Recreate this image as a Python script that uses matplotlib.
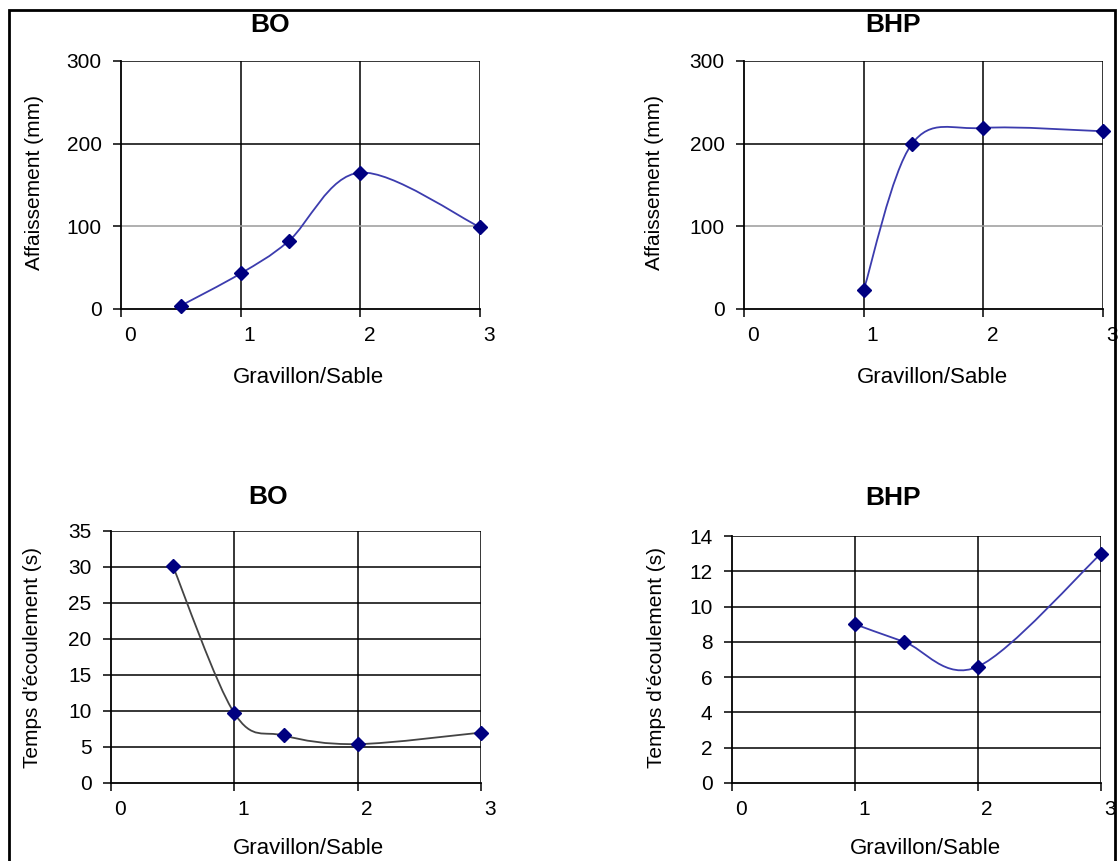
import numpy as np
import matplotlib
matplotlib.use('Agg')
import matplotlib.pyplot as plt
from matplotlib.path import Path
from matplotlib.patches import PathPatch, Rectangle
from matplotlib.transforms import ScaledTranslation

plt.rcParams['font.family'] = ['Liberation Sans', 'DejaVu Sans']

# Data
bo_x = [0.5, 1.0, 1.4, 2.0, 3.0]
bo_slump = [4, 43, 82, 165, 99]
bo_flow = [30.2, 9.7, 6.6, 5.4, 7.0]

bhp_x = [1.0, 1.4, 2.0, 3.0]
bhp_slump = [23, 199, 219, 215]
bhp_flow = [9.0, 8.0, 6.6, 13.0]

x_ticks = [0, 1, 2, 3]
slump_ticks = [0, 100, 200, 300]
bo_flow_ticks = [0, 5, 10, 15, 20, 25, 30, 35]
bhp_flow_ticks = [0, 2, 4, 6, 8, 10, 12, 14]

xlabel = 'Gravillon/Sable'
slump_label = 'Affaissement (mm)'
flow_label = "Temps d'écoulement (s)"

W, H = 1119, 861
fig = plt.figure(figsize=(W / 100, H / 100), dpi=100)


# Excel-like smoothed line drawn as cubic Bezier segments through the data points
def smooth_path(x, y):
    pts = np.column_stack([x, y]).astype(float)
    n = len(pts)
    verts = [pts[0]]
    codes = [Path.MOVETO]
    for i in range(n - 1):
        p0 = pts[i - 1] if i > 0 else pts[i]
        p1 = pts[i]
        p2 = pts[i + 1]
        p3 = pts[i + 2] if i + 2 < n else pts[i + 1]
        verts += [p1 + (p2 - p0) / 6, p2 - (p3 - p1) / 6, p2]
        codes += [Path.CURVE4] * 3
    return Path(verts, codes)


def px_axes(left, right, top, bottom):
    return fig.add_axes([left / W, 1 - bottom / H, (right - left) / W, (bottom - top) / H])


def draw(ax, x, y, yticks, line_color, gray_y=None):
    ax.set_xlim(0, 3)
    ax.set_ylim(yticks[0], yticks[-1])
    ax.set_xticks(x_ticks)
    ax.set_yticks(yticks)
    for t in x_ticks[1:]:
        ax.axvline(t, color='black', lw=1.1, zorder=1)
    for t in yticks[1:]:
        c = '#9a9a9a' if t == gray_y else 'black'
        ax.axhline(t, color=c, lw=1.1, zorder=1)
    for s in ['top', 'right']:
        ax.spines[s].set_visible(False)
    for s in ['left', 'bottom']:
        ax.spines[s].set_linewidth(1.3)
    ax.tick_params(direction='out', length=6, width=1.1, labelsize=15, pad=8)
    ax.tick_params(axis='x', pad=6)
    off = ScaledTranslation(9 / 100, 0, fig.dpi_scale_trans)
    for lab in ax.get_xticklabels():
        lab.set_transform(lab.get_transform() + off)
    ax.add_patch(PathPatch(smooth_path(x, y), fill=False, edgecolor=line_color, lw=1.3, zorder=3))
    ax.plot(x, y, linestyle='none', marker='D', markersize=7, color='#000080', zorder=4, clip_on=False)


ax1 = px_axes(121, 480, 61, 309)
draw(ax1, bo_x, bo_slump, slump_ticks, '#3c3cae', gray_y=100)
ax2 = px_axes(744, 1103, 61, 309)
draw(ax2, bhp_x, bhp_slump, slump_ticks, '#3c3cae', gray_y=100)
ax3 = px_axes(111, 481, 531, 783)
draw(ax3, bo_x, bo_flow, bo_flow_ticks, '#444444')
ax4 = px_axes(732, 1101, 536, 783)
draw(ax4, bhp_x, bhp_flow, bhp_flow_ticks, '#3c3cae')

# titles and axis labels placed like in the original sheet
def ftext(x, y, s, **kw):
    fig.text(x / W, 1 - y / H, s, ha='center', va='center', **kw)

ftext(270, 25, 'BO', fontsize=19, fontweight='bold')
ftext(893, 25, 'BHP', fontsize=19, fontweight='bold')
ftext(268, 497, 'BO', fontsize=19, fontweight='bold')
ftext(893, 498, 'BHP', fontsize=19, fontweight='bold')

ftext(308, 378, xlabel, fontsize=16)
ftext(932, 378, xlabel, fontsize=16)
ftext(308, 849, xlabel, fontsize=16)
ftext(925, 848, xlabel, fontsize=16)

ftext(35, 183, slump_label, fontsize=15, rotation=90)
ftext(655, 183, slump_label, fontsize=15, rotation=90)
ftext(33, 657, flow_label, fontsize=15, rotation=90)
ftext(657, 657, flow_label, fontsize=15, rotation=90)

# outer frame
fig.add_artist(Rectangle((9 / W, -0.01), (1115 - 9) / W, 1.01 - 10 / H,
                         transform=fig.transFigure, fill=False, edgecolor='black', lw=2))

fig.savefig('out.png', dpi=100)
